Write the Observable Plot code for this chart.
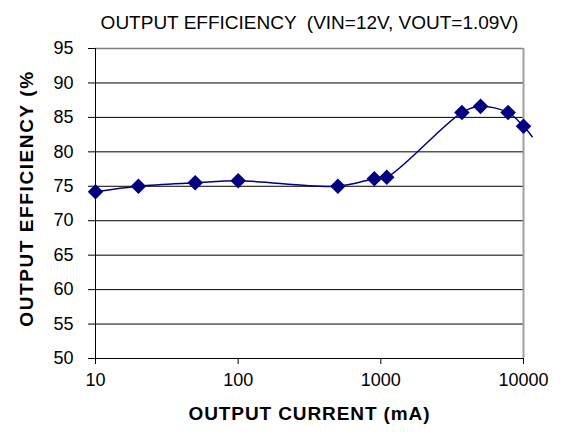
<!DOCTYPE html>
<html>
<head>
<meta charset="utf-8">
<script src="https://cdn.jsdelivr.net/npm/d3@7"></script>
<script src="https://cdn.jsdelivr.net/npm/@observablehq/plot@0.6"></script>
<style>
  html, body { margin: 0; padding: 0; background: #fff; }
</style>
</head>
<body>
<div id="chart"></div>
<script>
const currents = [10, 20, 50, 100, 500, 900, 1100, 3700, 5000, 7800, 10000];
const efficiency = [74.2, 75.0, 75.5, 75.8, 75.0, 76.1, 76.3, 85.7, 86.6, 85.7, 83.7];
// the smoothed line runs on past the right edge of the plot
const tailCurrent = [11500];
const tailEfficiency = [82.2];
const xTicks = [10, 100, 1000, 10000];
const yTicks = [50, 55, 60, 65, 70, 75, 80, 85, 90, 95];
const title = "OUTPUT EFFICIENCY  (VIN=12V, VOUT=1.09V)";
const xLabel = "OUTPUT CURRENT (mA)";
const yLabel = "OUTPUT EFFICIENCY (%";

const points = currents.map((c, i) => ({current: c, eff: efficiency[i]}));
const linePts = points.concat(tailCurrent.map((c, i) => ({current: c, eff: tailEfficiency[i]})));

const font = "Liberation Sans, Arial, sans-serif";

const chart = Plot.plot({
  width: 564,
  height: 442,
  marginLeft: 95,
  marginRight: 41,
  marginTop: 48,
  marginBottom: 84,
  style: {fontFamily: font, fontSize: "18px", color: "black", background: "white", overflow: "visible"},
  x: {type: "log", domain: [10, 10000]},
  y: {domain: [50, 95]},
  marks: [
    Plot.ruleY(yTicks.filter(d => d > 50 && d < 95), {stroke: "black", strokeWidth: 1}),
    Plot.ruleY([95], {stroke: "#808080", strokeWidth: 1.5}),
    Plot.ruleX([10000], {stroke: "#a0a0a0", strokeWidth: 2}),
    Plot.axisY({ticks: yTicks, tickSize: 7, tickPadding: 15, label: null, fontSize: 18, tickFormat: d => String(d)}),
    Plot.axisX({ticks: xTicks, tickSize: 6, tickPadding: 9, label: null, fontSize: 18, tickFormat: d => String(d)}),
    Plot.ruleX([10], {stroke: "black", strokeWidth: 1}),
    Plot.ruleY([50], {stroke: "black", strokeWidth: 1}),
    Plot.line(linePts, {x: "current", y: "eff", curve: "catmull-rom", stroke: "#000080", strokeWidth: 1.5}),
    Plot.dot(points, {x: "current", y: "eff", symbol: "diamond2", r: 7, fill: "#000080", stroke: "none"}),
    Plot.text([title], {frameAnchor: "top", dy: -20, fontSize: 19, fill: "black", textAnchor: "middle", lineAnchor: "bottom"}),
    Plot.text([xLabel], {frameAnchor: "bottom", dx: 0, dy: 61, fontSize: 19, fontWeight: "bold", fill: "black", textAnchor: "middle", lineAnchor: "bottom"}),
    Plot.text([yLabel], {frameAnchor: "left", dx: -69, dy: -5, rotate: -90, fontSize: 19, fontWeight: "bold", fill: "black", textAnchor: "middle", lineAnchor: "middle"})
  ]
});
d3.select(chart).selectAll("text").each(function() {
  const t = this.textContent;
  if (t === xLabel) d3.select(this).style("letter-spacing", "0.9px");
  if (t === yLabel) d3.select(this).style("letter-spacing", "1.6px");
});
document.getElementById("chart").appendChild(chart);
</script>
</body>
</html>
